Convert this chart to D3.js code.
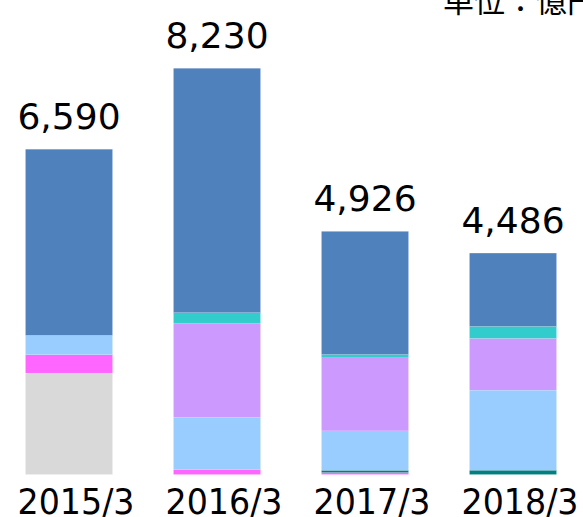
<!DOCTYPE html>
<html>
<head>
<meta charset="utf-8">
<script src="https://cdn.jsdelivr.net/npm/d3@7"></script>
<style>
  body { margin: 0; background: #fff; }
  text { font-family: "DejaVu Sans", Verdana, sans-serif; fill: #000; }
</style>
</head>
<body>
<div id="chart"></div>
<script>
// categories + totals
const periods = ["2015/3", "2016/3", "2017/3", "2018/3"];
const totals = [6590, 8230, 4926, 4486];

// series, bottom to top
const seriesNames = ["gray", "magenta", "teal", "lightblue", "lavender", "cyan", "steel"];
const grayVals = [2054, 0, 0, 0];
const magentaVals = [373, 101, 40, 0];
const tealVals = [0, 0, 45, 87];
const lightblueVals = [391, 1061, 799, 1622];
const lavenderVals = [0, 1906, 1480, 1048];
const cyanVals = [0, 211, 67, 243];
const steelVals = [3772, 4951, 2495, 1486];

const colors = {
  gray: "#d9d9d9", magenta: "#ff66ff", teal: "#008080", lightblue: "#99ccff",
  lavender: "#cc99ff", cyan: "#33cccc", steel: "#4f81bd"
};

const width = 583, height = 517;

const svg = d3.select("#chart")
  .append("svg")
  .attr("width", width)
  .attr("height", height);

// build rows for the stack
const allVals = [grayVals, magentaVals, tealVals, lightblueVals, lavenderVals, cyanVals, steelVals];
const rows = periods.map((p, i) => {
  const r = { period: p };
  seriesNames.forEach((s, j) => { r[s] = allVals[j][i]; });
  return r;
});

const stacked = d3.stack().keys(seriesNames)(rows);

const x = d3.scaleBand()
  .domain(periods)
  .range([-5, 587])
  .paddingInner(0.412)
  .paddingOuter(0.206);

const y = d3.scaleLinear()
  .domain([0, 8230])
  .range([474.5, 68.3]);

// bars
svg.append("g")
  .selectAll("g")
  .data(stacked)
  .join("g")
  .attr("fill", d => colors[d.key])
  .selectAll("rect")
  .data(d => d.filter(v => v[1] > v[0]))
  .join("rect")
  .attr("x", d => x(d.data.period))
  .attr("y", d => y(d[1]))
  .attr("width", x.bandwidth())
  .attr("height", d => y(d[0]) - y(d[1]))
  .attr("stroke", "rgba(255,255,255,0.3)")
  .attr("stroke-width", 0.4);

// total labels above bars
svg.append("g")
  .selectAll("text")
  .data(periods)
  .join("text")
  .attr("x", d => x(d) + x.bandwidth() / 2)
  .attr("y", (d, i) => y(totals[i]) - 20)
  .attr("text-anchor", "middle")
  .style("font-size", "36px")
  .text((d, i) => d3.format(",")(totals[i]));

// category labels (sit a bit right of the bar centre in the original)
svg.append("g")
  .selectAll("text")
  .data(periods)
  .join("text")
  .attr("x", d => x(d) + x.bandwidth() / 2 + 7)
  .attr("y", 514)
  .attr("text-anchor", "middle")
  .attr("textLength", 117)
  .attr("lengthAdjust", "spacingAndGlyphs")
  .style("font-size", "36px")
  .text(d => d);

// unit note, cut off at top right
svg.append("text")
  .attr("x", 443)
  .attr("y", 12)
  .style("font-family", "'Noto Sans CJK JP', sans-serif")
  .style("font-size", "31px")
  .text("単位：億円");
</script>
</body>
</html>
